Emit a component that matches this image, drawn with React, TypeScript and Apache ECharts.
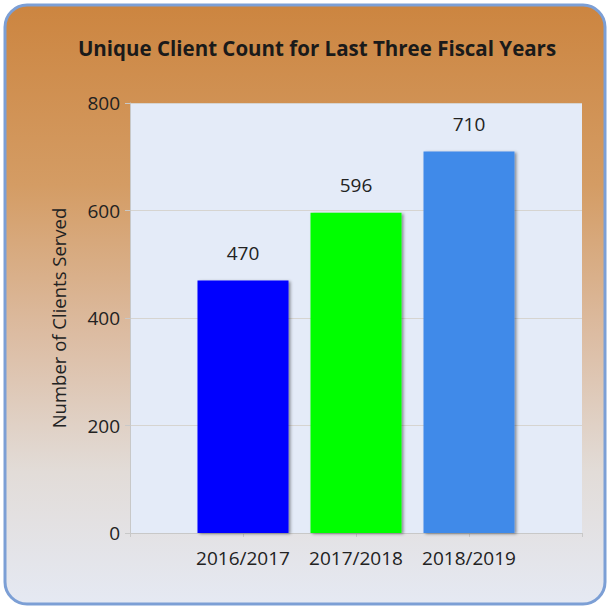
import React, { useEffect, useRef } from "react";
import * as echarts from "echarts";

const titleText = "Unique Client Count for Last Three Fiscal Years";
const yAxisName = "Number of Clients Served";
const categories = ["2016/2017", "2017/2018", "2018/2019"];
const values = [470, 596, 710];
const barColors = ["#0000ff", "#00ff00", "#418ae9"];
const yMin = 0;
const yMax = 800;
const yStep = 200;

const FONT = "'Open Sans', sans-serif";

export default function App() {
  const ref = useRef<HTMLDivElement>(null);
  useEffect(() => {
    if (!ref.current) return;
    const chart = echarts.init(ref.current, null, { renderer: "svg" });
    const axisData = ["", ...categories, ""];
    const seriesData: any[] = [
      "-",
      ...values.map((v, i) => ({ value: v, itemStyle: { color: barColors[i] } })),
      "-",
    ];
    chart.setOption({
      animation: false,
      backgroundColor: "#ffffff",
      graphic: [
        {
          type: "rect",
          z: -10,
          silent: true,
          shape: { x: 5, y: 5, width: 600, height: 599, r: 22 },
          style: {
            fill: new echarts.graphic.LinearGradient(0, 0, 0, 1, [
              { offset: 0, color: "#cc8540" },
              { offset: 0.3, color: "#d49c64" },
              { offset: 0.55, color: "#dcbca2" },
              { offset: 0.78, color: "#e2dcd8" },
              { offset: 1, color: "#e5e9f3" },
            ]),
            stroke: "#7c9fd5",
            lineWidth: 3,
          },
        },
      ],
      title: {
        text: titleText,
        left: 312,
        textAlign: "center",
        top: 32,
        textStyle: { fontFamily: FONT, fontSize: 20.5, fontWeight: "bold", color: "#1a1a1a" },
      },
      grid: {
        left: 130,
        right: 28,
        top: 103,
        bottom: 76,
        show: true,
        backgroundColor: "#e4ebf8",
        borderWidth: 0,
      },
      xAxis: {
        type: "category",
        data: axisData,
        boundaryGap: false,
        axisLine: { lineStyle: { color: "#c8c8c8", width: 1 } },
        axisTick: { show: true, length: 4, lineStyle: { color: "#c8c8c8" } },
        axisLabel: {
          interval: 0,
          margin: 15,
          fontFamily: FONT,
          fontSize: 19,
          color: "#222222",
        },
        splitLine: { show: false },
      },
      yAxis: {
        type: "value",
        min: yMin,
        max: yMax,
        interval: yStep,
        name: yAxisName,
        nameLocation: "middle",
        nameGap: 62,
        nameTextStyle: { fontFamily: FONT, fontSize: 18.5, color: "#222222" },
        axisLine: { show: true, lineStyle: { color: "#c8c8c8", width: 1 } },
        axisTick: { show: true, length: 5, lineStyle: { color: "#c8c8c8" } },
        axisLabel: { margin: 10, fontFamily: FONT, fontSize: 19, color: "#222222" },
        splitLine: { show: true, lineStyle: { color: "#d6d4d0", width: 1 } },
      },
      series: [
        {
          type: "bar",
          data: seriesData,
          barWidth: 91,
          itemStyle: {
            shadowColor: "rgba(0,0,0,0.4)",
            shadowBlur: 3,
            shadowOffsetX: 2,
            shadowOffsetY: 1,
          },
          label: {
            show: true,
            position: "top",
            distance: 18,
            fontFamily: FONT,
            fontSize: 19,
            color: "#222222",
          },
        },
      ],
    });
    return () => chart.dispose();
  }, []);
  return (
    <div
      ref={ref}
      style={{ position: "absolute", left: 0, top: 0, width: 610, height: 609 }}
    />
  );
}
